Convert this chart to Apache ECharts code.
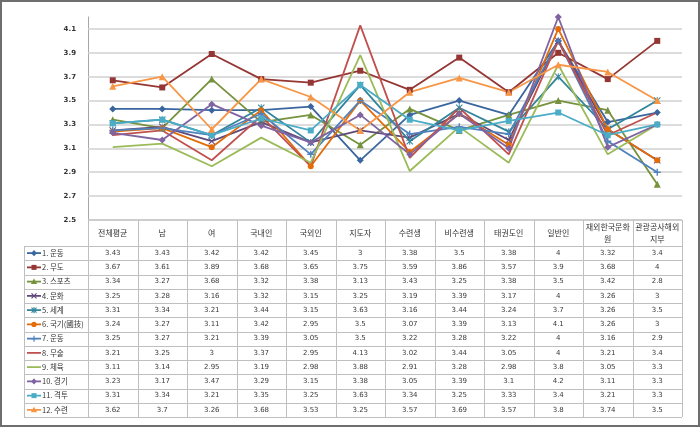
<!DOCTYPE html>
<html><head><meta charset="utf-8">
<script src="https://cdn.jsdelivr.net/npm/echarts@6/dist/echarts.min.js"></script>
<style>html,body{margin:0;padding:0;background:#fff}#c{width:700px;height:427px}</style>
</head><body><div id="c"></div>
<script>
const categories = ['전체평균','남','여','국내인','국외인','지도자','수련생','비수련생','태권도인','일반인','재외한국문화원','관광공사해외지부'];
const seriesNames = ['1. 운동','2. 무도','3. 스포츠','4. 문화','5. 세계','6. 국기(國技)','7. 운동','8. 무술','9. 체육','10. 경기','11. 격투','12. 수련'];
const s01 = [3.43, 3.43, 3.42, 3.42, 3.45, 3, 3.38, 3.5, 3.38, 4, 3.32, 3.4];
const s02 = [3.67, 3.61, 3.89, 3.68, 3.65, 3.75, 3.59, 3.86, 3.57, 3.9, 3.68, 4];
const s03 = [3.34, 3.27, 3.68, 3.32, 3.38, 3.13, 3.43, 3.25, 3.38, 3.5, 3.42, 2.8];
const s04 = [3.25, 3.28, 3.16, 3.32, 3.15, 3.25, 3.19, 3.39, 3.17, 4, 3.26, 3];
const s05 = [3.31, 3.34, 3.21, 3.44, 3.15, 3.63, 3.16, 3.44, 3.24, 3.7, 3.26, 3.5];
const s06 = [3.24, 3.27, 3.11, 3.42, 2.95, 3.5, 3.07, 3.39, 3.13, 4.1, 3.26, 3];
const s07 = [3.25, 3.27, 3.21, 3.39, 3.05, 3.5, 3.22, 3.28, 3.22, 4, 3.16, 2.9];
const s08 = [3.21, 3.25, 3, 3.37, 2.95, 4.13, 3.02, 3.44, 3.05, 4, 3.21, 3.4];
const s09 = [3.11, 3.14, 2.95, 3.19, 2.98, 3.88, 2.91, 3.28, 2.98, 3.8, 3.05, 3.3];
const s10 = [3.23, 3.17, 3.47, 3.29, 3.15, 3.38, 3.05, 3.39, 3.1, 4.2, 3.11, 3.3];
const s11 = [3.31, 3.34, 3.21, 3.35, 3.25, 3.63, 3.34, 3.25, 3.33, 3.4, 3.21, 3.3];
const s12 = [3.62, 3.7, 3.26, 3.68, 3.53, 3.25, 3.57, 3.69, 3.57, 3.8, 3.74, 3.5];
const seriesValues = [s01,s02,s03,s04,s05,s06,s07,s08,s09,s10,s11,s12];
const yMin = 2.5, yMax = 4.2, yStep = 0.1;
const gridTicks = [2.5, 2.7, 2.9, 3.1, 3.3, 3.5, 3.7, 3.9, 4.1];

const colors = ['#3A66A0','#943634','#76923C','#5F497A','#31859C','#E36C09','#4F81BD','#C0504D','#9BBB59','#8064A2','#4BACC6','#F79646'];
const markers = ['diamond','rect','triangle','x','asterisk','circle','plus','none','none','diamond','rect','triangle'];
const FONT = 'Noto Sans CJK KR';

const symPath = {
  x: 'path://M1,0L5,4L9,0L10,1L6,5L10,9L9,10L5,6L1,10L0,9L4,5L0,1Z',
  asterisk: 'path://M1,0L5,4L9,0L10,1L6,5L10,9L9,10L5,6L1,10L0,9L4,5L0,1Z M4.3,0H5.7V10H4.3Z',
  plus: 'path://M4,0H6V4H10V6H6V10H4V6H0V4H4Z'
};
function symOf(m){ return symPath[m] || m; }
function symSize(m){ return m==='triangle'?7: m==='rect'?6: m==='diamond'?7: m==='circle'?6: 7; }

const chart = echarts.init(document.getElementById('c'), null, {renderer:'canvas'});
const series = seriesValues.map((d,i)=>({
  name: seriesNames[i], type:'line', data:d, z: 3,
  symbol: symOf(markers[i]), symbolSize: symSize(markers[i]), showSymbol: markers[i]!=='none',
  lineStyle:{color:colors[i], width:1.8}, itemStyle:{color:colors[i]},
  emphasis:{disabled:true}
}));
series.push({
  name:'grid', type:'line', data:[], z:1,
  markLine:{silent:true, z:1, symbol:'none', label:{show:false},
    lineStyle:{color:'#D0D0D0', width:1.6, type:'solid'},
    data: gridTicks.map(v=>({yAxis:v}))}
});

chart.setOption({
  animation:false,
  grid:{left:88, right:18, top:17, bottom:207},
  xAxis:{type:'category', data:categories, boundaryGap:true,
    axisLine:{show:false}, axisTick:{show:false}, splitLine:{show:false},
    axisLabel:{interval:0, fontSize:8, color:'#333', margin:13, verticalAlign:'middle', lineHeight:12, fontFamily:FONT,
      formatter:v=> v.length>6 ? v.slice(0,6)+'\n'+v.slice(6) : v}},
  yAxis:{type:'value', min:yMin, max:yMax, interval:yStep,
    axisLine:{show:true, lineStyle:{color:'#A6A6A6', width:1}},
    axisTick:{show:false}, splitLine:{show:false},
    axisLabel:{fontSize:7, color:'#333', margin:12, fontWeight:'bold', fontFamily:'DejaVu Sans',
      formatter:v=> (Math.round(v*10)%2===1) ? v.toFixed(1) : ''}},
  series: series
});

// Data table
const cx0 = chart.convertToPixel({xAxisIndex:0}, 0);
const cx1 = chart.convertToPixel({xAxisIndex:0}, 1);
const colW = cx1 - cx0;
const leftEdge = cx0 - colW/2;
const rightEdge = leftEdge + colW*categories.length;
const yb = chart.convertToPixel({yAxisIndex:0}, yMin);
const headerH = 26, rowH = 14.25, tableLeft = 24;
const rowsTop = yb + headerH;
const tableBottom = rowsTop + rowH*seriesNames.length;
const lineCol = '#BFBFBF';
const g = [];
// frame
g.push({type:'rect', shape:{x:1,y:1,width:698,height:425}, style:{fill:null, stroke:'#6E6E6E', lineWidth:2}, silent:true, z:10});
// header top line
g.push({type:'line', shape:{x1:leftEdge,y1:yb,x2:rightEdge,y2:yb}, style:{stroke:lineCol,lineWidth:1}, silent:true, z:10});
for(let k=0;k<=seriesNames.length;k++){
  const y = Math.round(rowsTop + k*rowH)+0.5;
  g.push({type:'line', shape:{x1:tableLeft,y1:y,x2:rightEdge,y2:y}, style:{stroke:lineCol,lineWidth:1}, silent:true, z:10});
}
g.push({type:'line', shape:{x1:tableLeft+0.5,y1:rowsTop,x2:tableLeft+0.5,y2:tableBottom}, style:{stroke:lineCol,lineWidth:1}, silent:true, z:10});
for(let c=0;c<=categories.length;c++){
  const x = Math.round(leftEdge + c*colW)+0.5;
  g.push({type:'line', shape:{x1:x,y1:yb,x2:x,y2:tableBottom}, style:{stroke:lineCol,lineWidth:1}, silent:true, z:10});
}
function markerEls(type, cx, cy, color){
  const L = (x1,y1,x2,y2)=>({type:'line', shape:{x1,y1,x2,y2}, style:{stroke:color,lineWidth:1.2}, silent:true, z:12});
  switch(type){
    case 'diamond': return [{type:'polygon', shape:{points:[[cx,cy-3.2],[cx+2.8,cy],[cx,cy+3.2],[cx-2.8,cy]]}, style:{fill:color}, silent:true, z:12}];
    case 'rect': return [{type:'rect', shape:{x:cx-2.5,y:cy-2.5,width:5,height:5}, style:{fill:color}, silent:true, z:12}];
    case 'triangle': return [{type:'polygon', shape:{points:[[cx,cy-3.2],[cx+3.2,cy+2.4],[cx-3.2,cy+2.4]]}, style:{fill:color}, silent:true, z:12}];
    case 'circle': return [{type:'circle', shape:{cx,cy,r:2.6}, style:{fill:color}, silent:true, z:12}];
    case 'x': return [L(cx-2.5,cy-2.5,cx+2.5,cy+2.5), L(cx-2.5,cy+2.5,cx+2.5,cy-2.5)];
    case 'asterisk': return [L(cx-2.5,cy-2.5,cx+2.5,cy+2.5), L(cx-2.5,cy+2.5,cx+2.5,cy-2.5), L(cx,cy-3,cx,cy+3)];
    case 'plus': return [L(cx-3,cy,cx+3,cy), L(cx,cy-3,cx,cy+3)];
  }
  return [];
}
seriesNames.forEach((name,i)=>{
  const cy = rowsTop + (i+0.5)*rowH;
  g.push({type:'line', shape:{x1:tableLeft+3,y1:cy,x2:tableLeft+17,y2:cy}, style:{stroke:colors[i],lineWidth:1.8}, silent:true, z:11});
  g.push(...markerEls(markers[i], tableLeft+10, cy, colors[i]));
  g.push({type:'text', x:tableLeft+18, y:cy, style:{text:name, fontSize:7.5, fontFamily:FONT, fill:'#333', verticalAlign:'middle', align:'left'}, silent:true, z:11});
  seriesValues[i].forEach((v,j)=>{
    const cx = chart.convertToPixel({xAxisIndex:0}, j);
    g.push({type:'text', x:cx, y:cy, style:{text:String(v), fontSize:7, fontFamily:'DejaVu Sans', fill:'#3a3a3a', verticalAlign:'middle', align:'center'}, silent:true, z:11});
  });
});
chart.setOption({graphic: g});
</script></body></html>
